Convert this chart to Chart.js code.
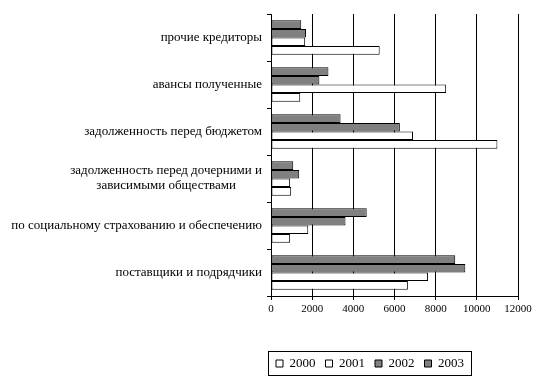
<!DOCTYPE html>
<html>
<head>
<meta charset="utf-8">
<script src="https://cdn.jsdelivr.net/npm/chart.js@4/dist/chart.umd.min.js"></script>
<style>
html,body{margin:0;padding:0;background:#fff;}
#wrap{width:552px;height:389px;}
</style>
</head>
<body>
<div id="wrap"><canvas id="c" width="552" height="389"></canvas></div>
<script>
// Categories, top to bottom as shown
const categories = [
  "прочие кредиторы",
  "авансы полученные",
  "задолженность перед бюджетом",
  ["задолженность перед дочерними и", "зависимыми обществами"],
  "по социальному страхованию и обеспечению",
  "поставщики и подрядчики"
];
const years = ["2000", "2001", "2002", "2003"];
const values2000 = [5280, 1420, 11000, 980, 930, 6650];
const values2001 = [1660, 8510, 6900, 930, 1810, 7630];
const values2002 = [1700, 2350, 6260, 1370, 3620, 9440];
const values2003 = [1470, 2790, 3380, 1080, 4650, 8950];
const xTicks = [0, 2000, 4000, 6000, 8000, 10000, 12000];

const GRAY = "#808080";
const FONT = "'Liberation Serif', 'Times New Roman', serif";

function ds(label, data, color) {
  return {
    label: label,
    data: data,
    backgroundColor: color,
    borderColor: "#000",
    borderWidth: 1,
    borderSkipped: false,
    categoryPercentage: 0.73,
    barPercentage: 1.0
  };
}

const legendFrame = {
  id: "legendFrame",
  afterLayout(chart) {
    const lg = chart.legend;
    if (!lg) return;
    lg.left = 188;
    lg.right = 552;
    lg.width = 364;
  },
  afterDraw(chart) {
    const lg = chart.legend;
    if (!lg || !lg.legendHitBoxes || !lg.legendHitBoxes.length) return;
    let minX = Infinity, maxX = -Infinity, minY = Infinity, maxY = -Infinity;
    lg.legendHitBoxes.forEach(b => {
      minX = Math.min(minX, b.left);
      maxX = Math.max(maxX, b.left + b.width);
      minY = Math.min(minY, b.top);
      maxY = Math.max(maxY, b.top + b.height);
    });
    const ctx = chart.ctx;
    ctx.save();
    ctx.strokeStyle = "#000";
    ctx.lineWidth = 1;
    ctx.strokeRect(Math.round(minX - 8) + 0.5, Math.round(minY - 6) + 0.5,
                   Math.round(maxX - minX + 15), Math.round(maxY - minY + 11));
    ctx.restore();
  }
};

new Chart(document.getElementById("c"), {
  type: "bar",
  data: {
    labels: categories,
    datasets: [
      ds(years[3], values2003, GRAY),
      ds(years[2], values2002, GRAY),
      ds(years[1], values2001, "#fff"),
      ds(years[0], values2000, "#fff")
    ]
  },
  options: {
    indexAxis: "y",
    responsive: false,
    animation: false,
    devicePixelRatio: 1,
    layout: { padding: { left: 0, right: 0, top: 14, bottom: 9 } },
    plugins: {
      tooltip: { enabled: false },
      legend: {
        position: "bottom",
        reverse: true,
        labels: {
          boxWidth: 7,
          boxHeight: 7,
          padding: 10,
          color: "#000",
          font: { family: FONT, size: 13 }
        }
      }
    },
    scales: {
      x: {
        min: 0,
        max: 12000,
        afterBuildTicks(s) { s.ticks = xTicks.map(v => ({ value: v })); },
        afterFit(s) { s.height = 51; },
        grid: { color: "#000", lineWidth: 1, tickLength: 4, drawOnChartArea: true },
        border: { color: "#000", width: 1 },
        ticks: {
          color: "#000", padding: 3, maxRotation: 0,
          font: { family: FONT, size: 11 },
          callback(v) { return String(v); }
        }
      },
      y: {
        afterFit(s) { s.width = 271; },
        grid: { display: true, offset: true, drawOnChartArea: false, color: "#000", tickLength: 4 },
        border: { color: "#000", width: 1 },
        ticks: {
          color: "#000",
          padding: 5,
          font: { family: FONT, size: 13, lineHeight: 1.15 },
          callback(v, i) {
            const l = categories[i];
            if (Array.isArray(l)) return [l[0], l[1] + "\u00a0\u00a0\u00a0\u00a0\u00a0\u00a0\u00a0\u00a0"];
            return l;
          }
        }
      },
      y2: {
        type: "linear",
        position: "right",
        axis: "y",
        afterFit(s) { s.width = 34; },
        grid: { display: false },
        border: { display: false },
        ticks: { display: false }
      }
    }
  },
  plugins: [legendFrame]
});
</script>
</body>
</html>
